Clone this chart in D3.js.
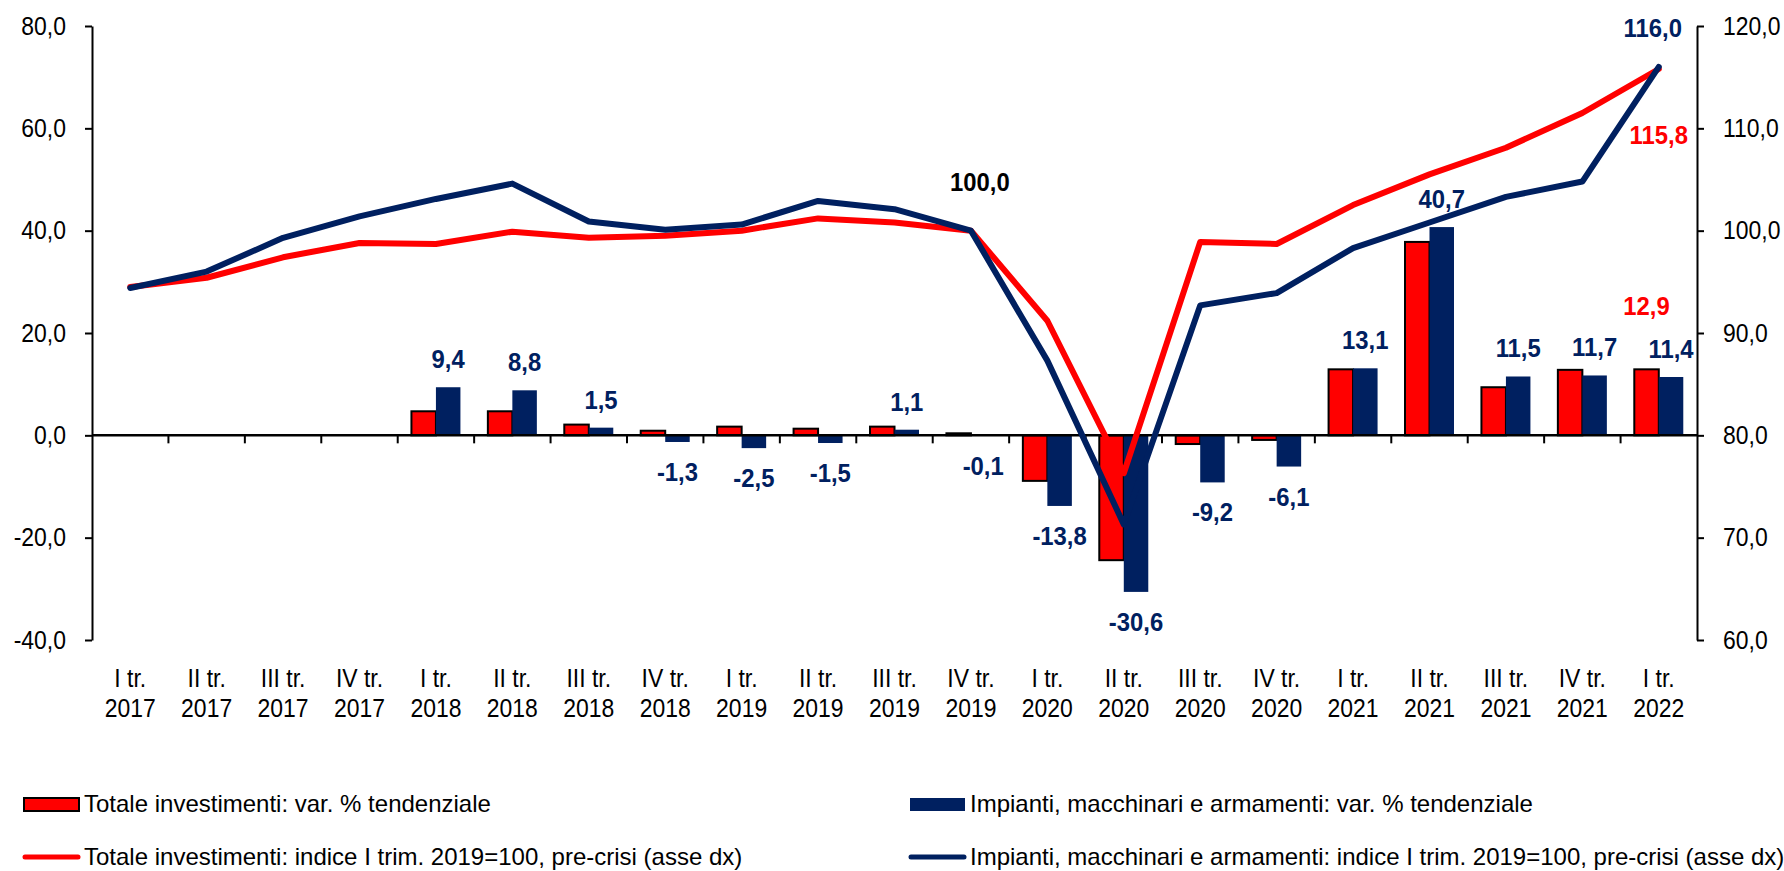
<!DOCTYPE html>
<html>
<head>
<meta charset="utf-8">
<script src="https://cdn.jsdelivr.net/npm/d3@7"></script>
<style>
body { margin: 0; background: #fff; }
svg text { font-family: "Liberation Sans", Arial, sans-serif; }
</style>
</head>
<body>
<svg id="chart" width="1784" height="871"></svg>
<script>
// Data
const quarters = ["I tr.", "II tr.", "III tr.", "IV tr.", "I tr.", "II tr.", "III tr.", "IV tr.", "I tr.", "II tr.", "III tr.",
    "IV tr.", "I tr.", "II tr.", "III tr.", "IV tr.", "I tr.", "II tr.", "III tr.", "IV tr.", "I tr."];
const years = ["2017", "2017", "2017", "2017", "2018", "2018", "2018", "2018", "2019", "2019", "2019",
    "2019", "2020", "2020", "2020", "2020", "2021", "2021", "2021", "2021", "2022"];

// var. % tendenziale (left axis)
const totVar = [null, null, null, null, 4.7, 4.7, 2.1, 0.9, 1.7, 1.3, 1.7, 0.4, -8.9, -24.4, -1.7, -0.9, 12.9, 37.8, 9.4, 12.8, 12.9];
const impVar = [null, null, null, null, 9.4, 8.8, 1.5, -1.3, -2.5, -1.5, 1.1, -0.1, -13.8, -30.6, -9.2, -6.1, 13.1, 40.7, 11.5, 11.7, 11.4];

// indice pre-crisi (right axis)
const totIdx = [94.5, 95.4, 97.4, 98.8, 98.7, 99.9, 99.3, 99.5, 100.0, 101.2, 100.8, 100.0, 91.2, 76.3, 98.9, 98.7, 102.5, 105.5, 108.1, 111.5, 115.8];
const impIdx = [94.4, 96.0, 99.3, 101.4, 103.1, 104.6, 100.9, 100.1, 100.6, 102.9, 102.1, 100.0, 87.3, 71.3, 92.7, 93.9, 98.3, 100.8, 103.3, 104.8, 116.0];

const leftTicks = [-40, -20, 0, 20, 40, 60, 80];
const rightTicks = [60, 70, 80, 90, 100, 110, 120];

const legendLabels = [
    "Totale investimenti: var. % tendenziale",
    "Impianti, macchinari e armamenti: var. % tendenziale",
    "Totale investimenti: indice I trim. 2019=100, pre-crisi (asse dx)",
    "Impianti, macchinari e armamenti: indice I trim. 2019=100, pre-crisi (asse dx)"
];

const RED = "#ff0000";
const NAVY = "#002060";

const it = d3.formatLocale({decimal: ",", thousands: ".", grouping: [3], currency: ["€", ""], minus: "-"});
const fmt = it.format(".1f");

const svg = d3.select("#chart");
const plotLeft = 92, plotRight = 1697, plotTop = 26, plotBottom = 640;
const idx = d3.range(quarters.length);

const x = d3.scaleBand().domain(idx).range([plotLeft, plotRight]);
const sub = d3.scaleBand().domain(["tot", "imp"]).range([0, x.bandwidth()]).paddingOuter(0.56);
const yL = d3.scaleLinear().domain([-40, 80]).range([plotBottom, plotTop]);
const yR = d3.scaleLinear().domain([60, 120]).range([plotBottom, plotTop]);
const cx = i => x(i) + x.bandwidth() / 2;

// narrow the font a bit, like the original (Arial Narrow look)
function squeeze(sel, s) {
    sel.each(function() {
        const t = d3.select(this);
        if (t.attr("x") !== null) t.attr("x", +t.attr("x") / s);
        t.selectAll("tspan").each(function() {
            const ts = d3.select(this);
            if (ts.attr("x") !== null) ts.attr("x", +ts.attr("x") / s);
        });
        t.attr("transform", `scale(${s},1)`);
    });
}

// bars
const g = svg.append("g");
g.selectAll("rect.tot").data(idx.filter(i => totVar[i] !== null))
    .enter().append("rect")
    .attr("x", i => x(i) + sub("tot"))
    .attr("y", i => yL(Math.max(0, totVar[i])))
    .attr("width", sub.bandwidth())
    .attr("height", i => Math.abs(yL(totVar[i]) - yL(0)))
    .attr("fill", RED).attr("stroke", "#000").attr("stroke-width", 2);

g.selectAll("rect.imp").data(idx.filter(i => impVar[i] !== null))
    .enter().append("rect")
    .attr("x", i => x(i) + sub("imp"))
    .attr("y", i => yL(Math.max(0, impVar[i])))
    .attr("width", sub.bandwidth())
    .attr("height", i => Math.abs(yL(impVar[i]) - yL(0)))
    .attr("fill", NAVY);

// axes
const axL = svg.append("g").attr("transform", `translate(${plotLeft},0)`)
    .call(d3.axisLeft(yL).tickValues(leftTicks).tickFormat(fmt).tickSize(7).tickSizeOuter(0).tickPadding(19));
const axR = svg.append("g").attr("transform", `translate(${plotRight},0)`)
    .call(d3.axisRight(yR).tickValues(rightTicks).tickFormat(fmt).tickSize(7).tickSizeOuter(0).tickPadding(19));
[axL, axR].forEach(a => {
    a.selectAll("path, line").attr("stroke", "#000").attr("stroke-width", 2);
    a.selectAll("text").attr("font-size", 25.5).attr("fill", "#000").call(squeeze, 0.9);
});

const y0 = yL(0);
svg.append("line").attr("x1", plotLeft).attr("x2", plotRight).attr("y1", y0).attr("y2", y0)
    .attr("stroke", "#000").attr("stroke-width", 2.5);
svg.selectAll("line.xt").data(idx.slice(1)).enter().append("line")
    .attr("x1", i => x(i)).attr("x2", i => x(i))
    .attr("y1", y0).attr("y2", y0 + 8)
    .attr("stroke", "#000").attr("stroke-width", 2);

const cat = svg.selectAll("text.cat").data(idx).enter().append("text")
    .attr("text-anchor", "middle").attr("font-size", 25.5).attr("fill", "#000");
cat.append("tspan").attr("x", cx).attr("y", 687).text(i => quarters[i]);
cat.append("tspan").attr("x", cx).attr("y", 717).text(i => years[i]);
cat.call(squeeze, 0.9);

// lines
const line = d3.line().x((d, i) => cx(i)).y(d => yR(d));
svg.append("path").datum(totIdx).attr("d", line)
    .attr("fill", "none").attr("stroke", RED).attr("stroke-width", 6)
    .attr("stroke-linejoin", "round").attr("stroke-linecap", "round");
svg.append("path").datum(impIdx).attr("d", line)
    .attr("fill", "none").attr("stroke", NAVY).attr("stroke-width", 6)
    .attr("stroke-linejoin", "round").attr("stroke-linecap", "round");

// data labels (blue bars)
const labels = svg.append("g");
labels.selectAll("text.lab").data(idx.filter(i => impVar[i] !== null)).enter().append("text")
    .attr("x", i => x(i) + sub("imp") + sub.bandwidth() / 2)
    .attr("y", i => impVar[i] >= 0 ? yL(impVar[i]) - 19 : yL(impVar[i]) + 39)
    .attr("fill", NAVY).text(i => fmt(impVar[i]));

const last = quarters.length - 1;
labels.append("text").attr("x", x(last) + sub("tot") + sub.bandwidth() / 2).attr("y", yL(totVar[last]) - 54)
    .attr("fill", RED).text(fmt(totVar[last]));
labels.append("text").attr("x", cx(11) + 9).attr("y", yR(impIdx[11]) - 40)
    .attr("fill", "#000").text(fmt(impIdx[11]));
labels.append("text").attr("x", cx(last) - 6).attr("y", yR(impIdx[last]) - 30)
    .attr("fill", NAVY).text(fmt(impIdx[last]));
labels.append("text").attr("x", cx(last)).attr("y", yR(totIdx[last]) + 75)
    .attr("fill", RED).text(fmt(totIdx[last]));
labels.selectAll("text")
    .attr("text-anchor", "middle").attr("font-size", 26.5).attr("font-weight", "bold")
    .call(squeeze, 0.9);

// legend
const leg = [
    {x: 23, y: 804, type: "bar", color: RED, stroke: "#000"},
    {x: 909, y: 804, type: "bar", color: NAVY, stroke: "none"},
    {x: 23, y: 857, type: "line", color: RED},
    {x: 909, y: 857, type: "line", color: NAVY}
];
leg.forEach((l, k) => {
    if (l.type === "bar") {
        svg.append("rect").attr("x", l.x + 1).attr("y", l.y - 6).attr("width", 55).attr("height", 13)
            .attr("fill", l.color).attr("stroke", l.stroke).attr("stroke-width", 2);
    } else {
        svg.append("line").attr("x1", l.x + 2).attr("x2", l.x + 55).attr("y1", l.y).attr("y2", l.y)
            .attr("stroke", l.color).attr("stroke-width", 5).attr("stroke-linecap", "round");
    }
    svg.append("text").attr("x", l.x + 61).attr("y", l.y + 8)
        .attr("font-size", 24).attr("fill", "#000").text(legendLabels[k]);
});
</script>
</body>
</html>
